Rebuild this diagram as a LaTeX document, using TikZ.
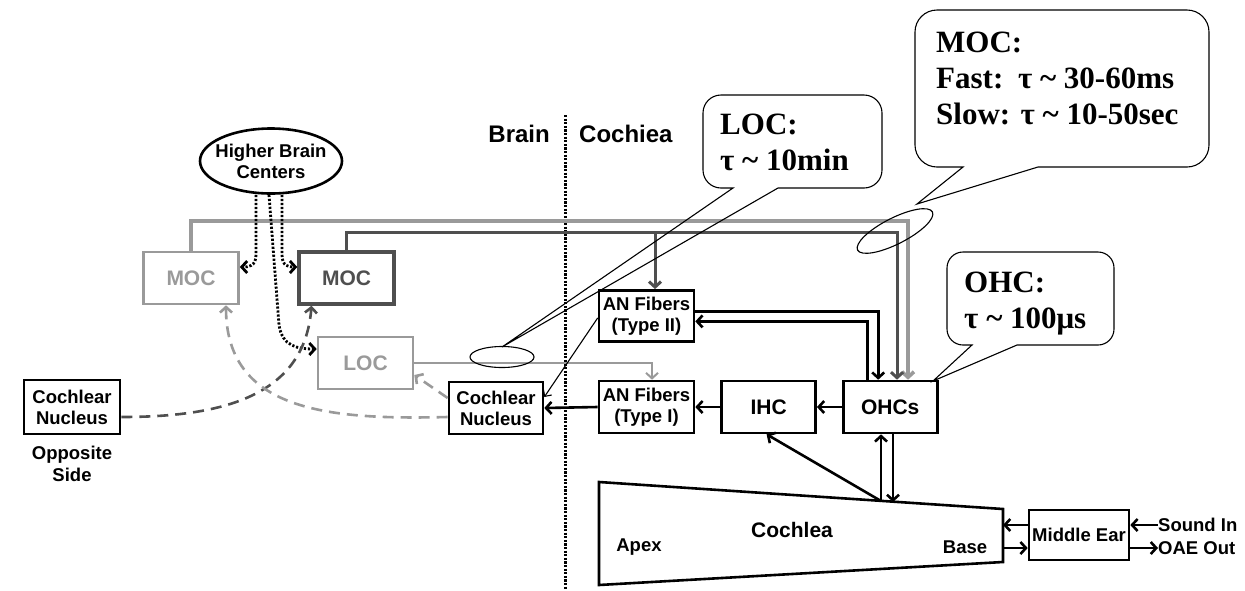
\documentclass[tikz,border=0pt]{standalone}
\usepackage{fontspec}
\setmainfont{Liberation Sans}
\newfontfamily\calloutfont{Liberation Serif}
\usepackage{tikz}
\usetikzlibrary{arrows.meta,positioning,calc,shapes.geometric}
\definecolor{mocgray}{HTML}{9A9A9A}
\definecolor{mocdark}{HTML}{4F4F4F}

\begin{document}
\begin{tikzpicture}[x=1pt, y=-1pt,
  box/.style={draw, line width=2.6pt, fill=white, align=center, inner sep=1pt,
    minimum width=95pt, minimum height=52pt, font=\bfseries\fontsize{18.5}{21}\selectfont},
  bigbox/.style={box, font=\bfseries\fontsize{21}{24}\selectfont},
  ell/.style={ellipse, draw, line width=2.6pt, align=center, inner xsep=-10pt, inner ysep=-4pt,
    minimum width=142pt, minimum height=65pt, font=\bfseries\fontsize{18.5}{21}\selectfont},
  lbl/.style={font=\bfseries\fontsize{18.5}{22}\selectfont, inner sep=0pt},
  note/.style={font=\calloutfont\bfseries\fontsize{31}{36}\selectfont, align=left, inner sep=0pt, anchor=north west},
  callout/.style={draw, line width=1.1pt},
  arr/.style={-{Straight Barb[length=5.5pt,width=12pt]}, line width=2.6pt},
  thinarr/.style={-{Straight Barb[length=5pt,width=10pt]}, line width=1.1pt},
  lightarr/.style={arr, draw=mocgray, line width=3.6pt},
  darkarr/.style={arr, draw=mocdark, line width=3pt},
  locarr/.style={arr, draw=mocgray, line width=2pt},
  dotarr/.style={arr, line width=2.8pt, dash pattern=on 2.2pt off 1.8pt},
  dasharr/.style={arr, dash pattern=on 11pt off 7pt}
]
\useasboundingbox (0,0) rectangle (1245,590);

% brain side
\node[ell] (hbc) at (271,161) {Higher Brain\\Centers};
\node[bigbox, draw=mocgray, text=mocgray] (mocL) at (191,278) {MOC};
\node[bigbox, draw=mocdark, text=mocdark, line width=3.4pt] (mocR) at (346.5,278) {MOC};
\node[bigbox, draw=mocgray, text=mocgray] (loc) at (365.5,363) {LOC};
\node[box, minimum width=96pt, minimum height=54pt] (cnL) at (72,407) {Cochlear\\Nucleus};
\node[lbl, align=center, below=11pt of cnL] (opp) {Opposite\\Side};
\node[box, minimum width=94pt] (cnR) at (496,408) {Cochlear\\Nucleus};

% cochlea side
\node[box] (an1) at (646.5,407) {AN Fibers\\(Type I)};
\node[box, above=37pt of an1, minimum height=51pt] (an2) {AN Fibers\\(Type II)};
\node[bigbox, minimum width=94pt, right=25pt of an1] (ihc) {IHC};
\node[bigbox, minimum width=94pt, right=25pt of ihc] (ohc) {OHCs};
\node[box, minimum width=100pt, minimum height=50pt] (mid) at (1079,535) {Middle Ear};
\node[lbl, anchor=west] (sndin) at (1158,525) {Sound In};
\node[lbl, anchor=west] (oaeout) at (1158,548) {OAE Out};

\draw[line width=2.6pt] (599,482) coordinate (ctl) -- (1003,509) coordinate (ctr)
  -- (1003,562) coordinate (cbr) -- (599,585) coordinate (cbl) -- cycle;
\node[font=\bfseries\fontsize{21}{24}\selectfont] (cochlbl) at (792,530) {Cochlea};
\node[lbl] (apex) at (639,547) {Apex};
\node[lbl] (base) at (965,547) {Base};

% divider
\draw[line width=3pt, dash pattern=on 2.2pt off 1.4pt] (565,115) -- (565,590);
\node[font=\bfseries\fontsize{24}{28}\selectfont, anchor=east, inner sep=0pt] (brain) at (550,134) {Brain};
\node[font=\bfseries\fontsize{24}{28}\selectfont, anchor=west, inner sep=0pt] (cochiea) at (579,134) {Cochiea};

% efferent paths
\coordinate (mocl) at (908,221);
\coordinate (mocd) at (897,232);
\coordinate (an2in) at ($(an2.north)+(8.5,0)$);
\draw[lightarr] (mocL.north) |- (mocl) -- (mocl |- ohc.north);
\draw[darkarr] (mocR.north) |- (mocd) -- (mocd |- ohc.north);
\draw[darkarr] (an2in |- mocd) -- (an2in);
\draw[locarr] (loc.east) -| ($(an1.north)+(5.5,0)$);

% hair cells and fibers
\draw[arr] ($(an2.east)+(0,-4.5)$) -| ($(ohc.north)+(-12,0)$);
\draw[arr] ($(ohc.north)+(-23,0)$) |- ($(an2.east)+(0,5.5)$);
\draw[arr] (ohc.west) -- (ihc.east);
\draw[arr] (ihc.west) -- (an1.east);
\draw[arr] (an1.west) -- (cnR.east);
\draw[thinarr] ($(an2.west)+(0,2)$) -- ($(cnR.east)+(0,-11)$);
\coordinate (cup) at (881,501);
\coordinate (cdn) at (893,502);
\draw[arr] (cup) -- ($(ihc.south)+(-2,0)$);
\draw[arr] (cup) -- (cup |- ohc.south);
\draw[arr] (cdn |- ohc.south) -- (cdn);
\draw[arr] (mid.west |- sndin.west) -- (ctr |- sndin.west);
\draw[arr] (ctr |- oaeout.west) -- (mid.west |- oaeout.west);
\draw[arr] (sndin.west) -- (sndin.west -| mid.east);
\draw[arr] (mid.east |- oaeout.west) -- (oaeout.west);

% higher centers and crossing paths
\draw[dotarr] ($(hbc.south)+(-15,0)$) -- ++(0,60) .. controls +(0,12) and +(8,0) .. ($(mocL.east)+(0,-11)$);
\draw[dotarr] ($(hbc.south)+(11,0)$) -- ++(0,60) .. controls +(0,12) and +(-8,0) .. ($(mocR.west)+(0,-11)$);
\draw[dotarr] ($(hbc.south)+(-2,0)$) -- ++(10,130) .. controls +(3,22) and +(-18,0) .. ($(loc.west)+(0,-14)$);
\draw[dasharr, mocdark] ($(cnL.east)+(0,10)$) .. controls +(100,0) and +(-7,91) .. ($(mocR.south)+(-35,0)$);
\draw[dasharr, mocgray] ($(cnR.west)+(0,9)$) .. controls +(-119,3) and +(0,106) .. ($(mocL.south)+(35,0)$);
\draw[dasharr, mocgray] ($(cnR.west)+(0,-10)$) -- ($(loc.east)+(0,12)$);

% time constants
\draw[callout] (502,347) -- (778,188) [rounded corners=18pt] -- (882,188) -- (882,95)
  -- (703,95) -- (703,188) [sharp corners] -- (733,188) -- cycle;
\draw[callout] (502,357) ellipse [x radius=32, y radius=10.5];
\node[note] (locnote) at (720,114) {LOC:\\τ \textasciitilde{} 10min};

\draw[callout] (917,204) -- (1038,167) [rounded corners=22pt] -- (1209,167) -- (1209,10)
  -- (915,10) -- (915,167) [sharp corners] -- (963,167) -- cycle;
\draw[callout, rotate around={27:(895,231)}] (895,231) ellipse [x radius=42, y radius=13];
\node[note] (mocnote) at (936,32) {MOC:\\\rlap{Fast:}\phantom{Slow:} τ \textasciitilde{} 30-60ms\\Slow: τ \textasciitilde{} 10-50sec};

\draw[callout] (933,381) -- (1017,345) [rounded corners=16pt] -- (1114,345) -- (1114,252)
  -- (947,252) -- (947,345) [sharp corners] -- (972,345) -- cycle;
\node[note] (ohcnote) at (964,272) {OHC:\\τ \textasciitilde{} 100μs};
\end{tikzpicture}
\end{document}
